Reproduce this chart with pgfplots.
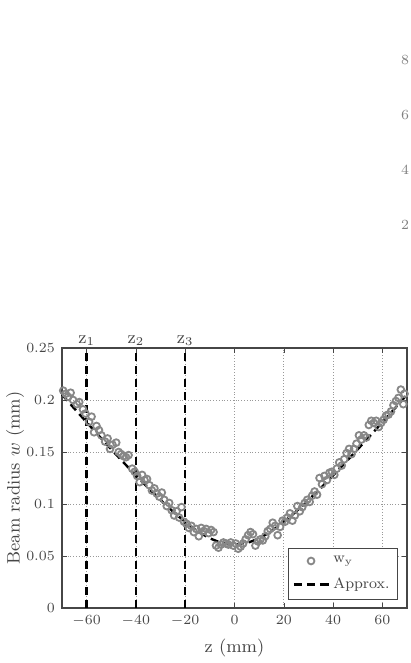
\documentclass[border=0pt]{standalone}
\usepackage{pgfplots}
\pgfplotsset{compat=1.18}
\definecolor{axgray}{RGB}{70,70,70}
\definecolor{mkgray}{RGB}{135,135,135}

\begin{document}
\begin{tikzpicture}[font=\fontsize{9}{11}\selectfont]
\path[use as bounding box] (0,0) rectangle (205.5pt,331.5pt);
% fragments of the neighbouring panel
\node[text=gray, font=\fontsize{7}{8}\selectfont] at (202.5pt,301.5pt) {8};
\node[text=gray, font=\fontsize{7}{8}\selectfont] at (202.5pt,274pt) {6};
\node[text=gray, font=\fontsize{7}{8}\selectfont] at (202.5pt,246.5pt) {4};
\node[text=gray, font=\fontsize{7}{8}\selectfont] at (202.5pt,219pt) {2};
\begin{axis}[
  at={(31pt,27.5pt)}, anchor=south west,
  scale only axis, width=172.5pt, height=130pt,
  xmin=-70, xmax=70, ymin=0, ymax=0.25,
  xtick={-60,-40,...,60},
  ytick={0,0.05,...,0.25},
  yticklabel style={/pgf/number format/fixed, /pgf/number format/precision=2},
  tick align=inside, tick pos=both,
  major tick length=2.5pt,
  axis line style={axgray, line width=0.6pt},
  tick style={axgray},
  ticklabel style={text=axgray, font=\fontsize{7.5}{9}\selectfont},
  grid=major, grid style={densely dotted, gray!80, line width=0.4pt},
  xlabel={z (mm)}, ylabel={Beam radius $w$ (mm)},
  label style={text=axgray},
  xlabel style={yshift=0pt},
  ylabel style={at={(axis description cs:-0.136,0.5)}, anchor=center},
  clip=false,
  legend style={at={(0.974,0.031)}, anchor=south east, draw=axgray,
    fill=white, line width=0.5pt, inner sep=2pt, row sep=2pt,
    font=\fontsize{7.5}{9}\selectfont, text=axgray},
  legend cell align=left,
]
% marker position lines
\addplot[black, line width=1.2pt, dash pattern=on 4pt off 2.5pt, forget plot]
  coordinates {(-60,0)(-60,0.25)};
\addplot[black, line width=1.2pt, dash pattern=on 4pt off 2.5pt, forget plot]
  coordinates {(-40,0)(-40,0.25)};
\addplot[black, line width=1.2pt, dash pattern=on 4pt off 2.5pt, forget plot]
  coordinates {(-20,0)(-20,0.25)};
\node[anchor=south, text=axgray, inner sep=1pt] at (axis cs:-60,0.25) {z$_1$};
\node[anchor=south, text=axgray, inner sep=1pt] at (axis cs:-40,0.25) {z$_2$};
\node[anchor=south, text=axgray, inner sep=1pt] at (axis cs:-20,0.25) {z$_3$};
% measured beam radius
\addplot[only marks, mark=o, mark size=1.7pt,
  mark options={draw=mkgray, fill=white, line width=0.9pt}]
  coordinates {
  (-69.5,0.209)(-68.5,0.206)(-67.5,0.203)(-66.5,0.207)(-65.5,0.200)
  (-64,0.196)(-63,0.198)(-61.5,0.191)(-60.5,0.187)(-59,0.179)
  (-58,0.184)(-57,0.169)(-56,0.175)(-55,0.171)(-54,0.166)
  (-52.5,0.160)(-51.5,0.163)(-50.5,0.153)(-49.5,0.157)(-48,0.159)
  (-47,0.150)(-46,0.148)(-45,0.146)(-44,0.145)(-43,0.147)
  (-41.5,0.134)(-40.5,0.131)(-39.5,0.127)(-38.5,0.121)(-37.5,0.128)
  (-36.5,0.123)(-35.5,0.124)(-34.5,0.118)(-33.5,0.113)(-32.5,0.115)
  (-31.5,0.110)(-30.5,0.107)(-29.5,0.111)(-28.5,0.104)(-27.5,0.098)
  (-26.5,0.101)(-25.5,0.094)(-24.5,0.089)(-23.5,0.093)(-22.5,0.087)
  (-21.5,0.097)(-20.5,0.083)(-19.5,0.081)(-18.5,0.077)(-17.5,0.079)
  (-16.5,0.073)(-15.5,0.076)(-14.5,0.069)(-13.5,0.077)(-12.5,0.074)
  (-11.5,0.076)(-10.5,0.072)(-9.5,0.075)(-8.5,0.073)(-7.5,0.060)
  (-6.5,0.058)(-5.5,0.061)(-4.5,0.063)(-3.5,0.062)(-2.5,0.061)
  (-1.5,0.063)(-0.5,0.060)(0.5,0.062)(1.5,0.057)(2.5,0.059)
  (3.5,0.062)(4.5,0.066)(5.5,0.070)(6.5,0.073)(7.5,0.071)
  (8.5,0.060)(9.5,0.064)(10.5,0.066)(11.5,0.065)(12.5,0.069)
  (13.5,0.074)(14.5,0.076)(15.5,0.082)(16.5,0.079)(17.5,0.070)
  (18.5,0.078)(19.5,0.084)(20.5,0.083)(21.5,0.087)(22.5,0.091)
  (23.5,0.084)(24.5,0.089)(25.5,0.098)(26.5,0.093)(27.5,0.097)
  (28.5,0.101)(29.5,0.104)(30.5,0.102)(31.5,0.108)(32.5,0.112)
  (33.5,0.109)(34.5,0.125)(35.5,0.119)(36.5,0.127)(37.5,0.123)
  (38.5,0.130)(39.5,0.131)(40.5,0.128)(41.5,0.134)(42.5,0.140)
  (43.5,0.137)(44.5,0.143)(45.5,0.149)(46.5,0.153)(47.5,0.148)
  (48.5,0.153)(49.5,0.158)(50.5,0.166)(51.5,0.162)(52.5,0.166)
  (53.5,0.164)(54.5,0.176)(55.5,0.180)(56.5,0.178)(57.5,0.180)
  (58.5,0.174)(59.5,0.178)(60.5,0.181)(61.5,0.185)(62.5,0.186)
  (63.5,0.189)(64.5,0.195)(65.5,0.199)(66.5,0.202)(67.5,0.210)
  (68.5,0.196)(69,0.206)
  };
% fitted Gaussian beam
\addplot[black, line width=1.2pt, dash pattern=on 4pt off 2.5pt, smooth]
  coordinates {
  (-70,0.2052)(-65,0.1918)(-60,0.1786)(-55,0.1655)(-50,0.1526)
  (-45,0.1399)(-40,0.1275)(-35,0.1154)(-30,0.1038)(-25,0.0928)
  (-20,0.0828)(-15,0.0740)(-10,0.0671)(-5,0.0626)(0,0.0610)
  (5,0.0626)(10,0.0671)(15,0.0740)(20,0.0828)(25,0.0928)
  (30,0.1038)(35,0.1154)(40,0.1275)(45,0.1399)(50,0.1526)
  (55,0.1655)(60,0.1786)(65,0.1918)(70,0.2052)
  };
\legend{w$_{\mathrm{y}}$, Approx.}
\end{axis}
\end{tikzpicture}
\end{document}
